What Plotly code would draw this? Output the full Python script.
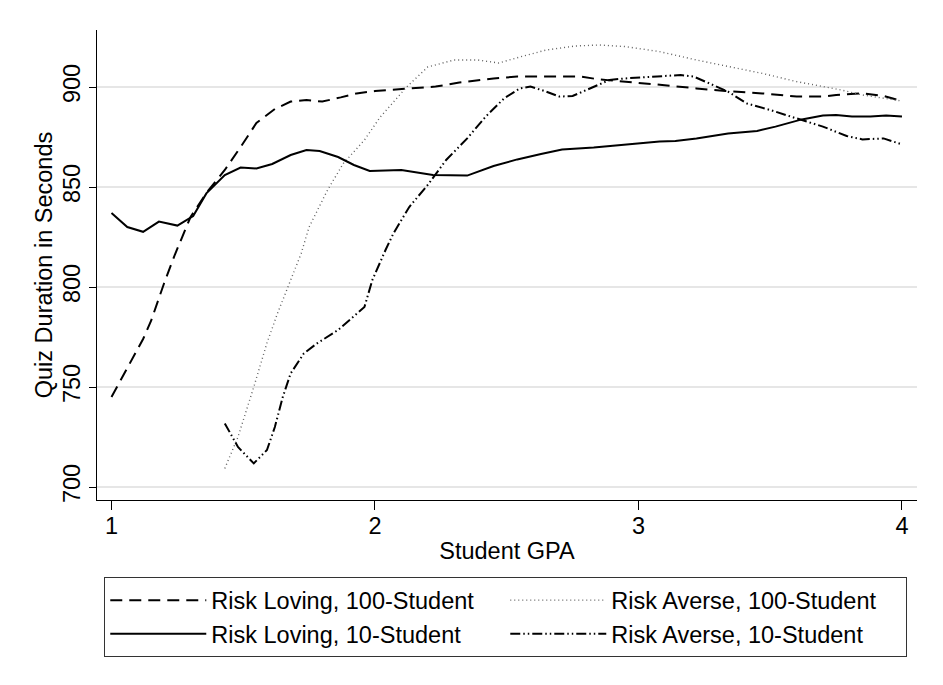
import plotly.graph_objects as go

# Risk Loving, 100-Student (dashed)
rl100_gpa = [1.00, 1.05, 1.12, 1.15, 1.20, 1.24, 1.30, 1.36, 1.43, 1.49, 1.55, 1.62, 1.68,
             1.74, 1.80, 1.87, 1.93, 2.00, 2.06, 2.12, 2.23, 2.32, 2.45, 2.54, 2.65, 2.78,
             2.85, 2.95, 3.09, 3.22, 3.33, 3.47, 3.60, 3.70, 3.75, 3.85, 3.93, 4.00]
rl100_dur = [745, 757, 774, 783, 802, 816, 835, 847, 858.5, 870, 882, 889, 892.7,
             893.5, 892.7, 894.8, 896.8, 898, 898.5, 899.3, 900.2, 902.2, 904.3, 905.2, 905.2, 905.2,
             903.8, 902.7, 901, 899.3, 898, 896.8, 895.2, 895.2, 896, 896.8, 895.5, 893]

# Risk Loving, 10-Student (solid)
rl10_gpa = [1.00, 1.06, 1.12, 1.18, 1.25, 1.31, 1.36, 1.43, 1.49, 1.55, 1.61, 1.68, 1.74,
            1.79, 1.86, 1.92, 1.98, 2.10, 2.22, 2.35, 2.45, 2.54, 2.63, 2.71, 2.83, 2.90,
            2.98, 3.08, 3.14, 3.22, 3.34, 3.45, 3.52, 3.62, 3.70, 3.75, 3.81, 3.88, 3.94, 4.00]
rl10_dur = [837, 830, 827.6, 832.7, 830.7, 835.5, 846.8, 856, 859.7, 859.3, 861.5, 866, 868.5,
            868, 865, 861, 858, 858.5, 856, 855.7, 860.5, 863.8, 866.5, 868.8, 869.7, 870.5,
            871.7, 872.7, 873, 874.3, 876.7, 878, 880.2, 883.8, 885.7, 886, 885.2, 885.2, 885.7, 885.2]

# Risk Averse, 100-Student (dotted)
ra100_gpa = [1.43, 1.48, 1.54, 1.59, 1.63, 1.68, 1.72, 1.75, 1.82, 1.88, 1.96, 2.02, 2.12,
             2.20, 2.30, 2.39, 2.47, 2.55, 2.65, 2.76, 2.85, 2.95, 3.08, 3.22, 3.34, 3.47,
             3.60, 3.70, 3.77, 3.85, 3.93, 4.00]
ra100_dur = [709.3, 725, 750, 772, 786.8, 803.5, 816.8, 830, 848.5, 861.8, 873.5, 885, 900,
             910, 913.5, 913.5, 912, 915, 918.5, 920.5, 921, 920.2, 917.7, 913.5, 910.2, 906.8,
             902.7, 900.2, 898.5, 896, 894.3, 893]

# Risk Averse, 10-Student (dash-dot)
ra10_gpa = [1.43, 1.48, 1.54, 1.59, 1.62, 1.65, 1.68, 1.73, 1.78, 1.86, 1.96, 1.99, 2.04,
            2.07, 2.13, 2.20, 2.27, 2.35, 2.42, 2.49, 2.55, 2.59, 2.65, 2.70, 2.75, 2.83,
            2.89, 2.95, 3.07, 3.16, 3.21, 3.28, 3.34, 3.41, 3.50, 3.60, 3.70, 3.79, 3.85, 3.93, 4.00]
ra10_dur = [731.8, 720, 711.8, 718.5, 730, 745, 756.8, 766.8, 771.8, 778.5, 790, 803.5, 818.5,
            826.8, 840, 851, 863.5, 874.3, 885.2, 894.3, 899.3, 900.2, 897.7, 895.2, 895.5, 900.2,
            903.5, 904.3, 905.2, 906, 905.2, 901, 897.7, 891.8, 888.5, 884.3, 880.2, 875.5, 873.8, 874.3, 871.3]

x_ticks = [1, 2, 3, 4]
y_ticks = [700, 750, 800, 850, 900]

FONT = "Liberation Sans, Arial, Helvetica, sans-serif"
FS = 23.5

fig = go.Figure()
fig.add_trace(go.Scatter(x=rl100_gpa, y=rl100_dur, mode="lines", name="Risk Loving, 100-Student",
                         line=dict(color="black", width=2, dash="12px,7px")))
fig.add_trace(go.Scatter(x=ra100_gpa, y=ra100_dur, mode="lines", name="Risk Averse, 100-Student",
                         line=dict(color="#606060", width=1.4, dash="1px,3px")))
fig.add_trace(go.Scatter(x=rl10_gpa, y=rl10_dur, mode="lines", name="Risk Loving, 10-Student",
                         line=dict(color="black", width=2)))
fig.add_trace(go.Scatter(x=ra10_gpa, y=ra10_dur, mode="lines", name="Risk Averse, 10-Student",
                         line=dict(color="black", width=2, dash="10px,3px,1.5px,3px,1.5px,3px")))

fig.update_layout(
    width=943, height=685,
    margin=dict(l=97, r=26, t=30, b=185, autoexpand=False),
    paper_bgcolor="white", plot_bgcolor="white",
    font=dict(family=FONT, size=FS, color="black"),
    showlegend=True,
    legend=dict(
        orientation="h", x=0.0085, xanchor="left", y=-0.164, yanchor="top",
        entrywidth=289, entrywidthmode="pixels", itemwidth=96,
        bordercolor="#333333", borderwidth=1.3, bgcolor="white",
        font=dict(family=FONT, size=FS, color="black"),
        traceorder="normal",
    ),
    xaxis=dict(
        range=[0.945, 4.057], tickmode="array", tickvals=x_ticks,
        ticks="outside", ticklen=9, tickwidth=1.3, tickcolor="black",
        showline=True, linecolor="black", linewidth=1.3,
        showgrid=False, zeroline=False,
        tickfont=dict(family=FONT, size=FS), ticklabelstandoff=-4,
        title=dict(text="Student GPA", font=dict(family=FONT, size=FS), standoff=4),
    ),
    yaxis=dict(
        range=[693.5, 928.5], tickmode="array", tickvals=y_ticks,
        ticks="outside", ticklen=7, tickwidth=1.3, tickcolor="black",
        showline=True, linecolor="black", linewidth=1.3,
        showgrid=True, gridcolor="#e6e6e6", gridwidth=1.5, zeroline=False,
        tickangle=-90, tickfont=dict(family=FONT, size=FS), ticklabelstandoff=-1,
        title=dict(text="Quiz Duration in Seconds", font=dict(family=FONT, size=FS), standoff=0),
    ),
)

fig.write_html("out.html")
